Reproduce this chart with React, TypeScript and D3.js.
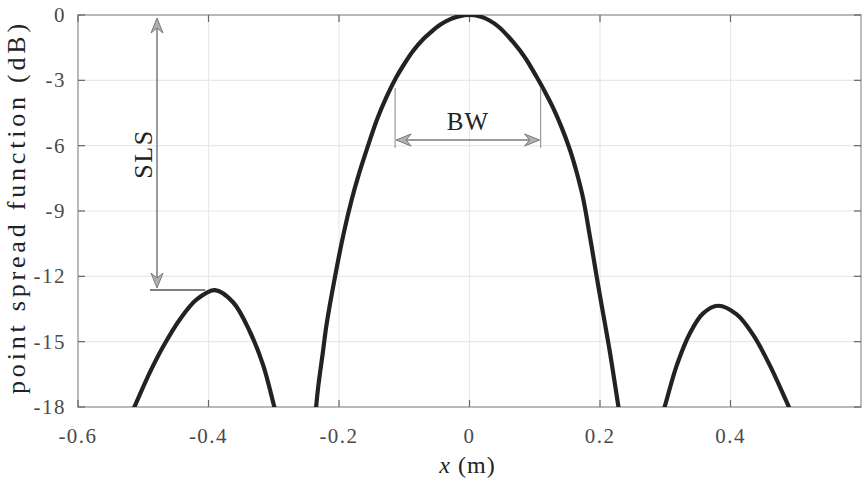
import React from "react";
import * as d3 from "d3";

const xTicks = [-0.6, -0.4, -0.2, 0, 0.2, 0.4];
const yTicks = [0, -3, -6, -9, -12, -15, -18];
const xTickLabels = ["-0.6", "-0.4", "-0.2", "0", "0.2", "0.4"];
const yTickLabels = ["0", "-3", "-6", "-9", "-12", "-15", "-18"];

// Left sidelobe
const leftLobeX = [-0.518, -0.5127, -0.4897, -0.469, -0.4437, -0.418, -0.39, -0.362, -0.336, -0.316, -0.2996, -0.296];
const leftLobeY = [-18.3, -17.94, -16.4, -15.2, -13.97, -13.06, -12.63, -13.2, -14.58, -16.1, -17.94, -18.35];
// Main lobe
const mainLobeX = [-0.2365, -0.2317, -0.225, -0.219, -0.206, -0.193, -0.1805, -0.17, -0.1575, -0.142, -0.127, -0.112, -0.1, -0.086, -0.07, -0.0605, -0.045, -0.03, -0.015, 0, 0.015, 0.03, 0.045, 0.067, 0.085, 0.103, 0.116, 0.128, 0.141, 0.154, 0.164, 0.174, 0.1847, 0.194, 0.2, 0.2153, 0.228, 0.2315];
const mainLobeY = [-18.45, -17.03, -15.55, -14.2, -12.0, -10.05, -8.47, -7.35, -6.18, -4.82, -3.75, -2.85, -2.25, -1.63, -1.08, -0.82, -0.45, -0.2, -0.05, 0, -0.06, -0.24, -0.55, -1.25, -1.95, -2.85, -3.55, -4.25, -5.15, -6.2, -7.2, -8.4, -10.2, -11.85, -12.9, -15.5, -17.94, -18.6];
// Right sidelobe
const rightLobeX = [0.296, 0.2996, 0.3175, 0.338, 0.358, 0.381, 0.4095, 0.435, 0.4605, 0.4886, 0.494];
const rightLobeY = [-18.3, -17.94, -16.1, -14.6, -13.7, -13.35, -13.75, -14.7, -16.1, -17.94, -18.3];

// Annotations (data coords)
const slsLevel = -12.63;
const bwLeft = -0.114;
const bwRight = 0.109;

const W = 863, H = 478;
const L = 78, R = 861, T = 15, B = 407;

function arrowHead(tipX: number, tipY: number, dirX: number, dirY: number) {
  const len = 15, half = 6, notch = 10;
  const px = -dirY, py = dirX;
  const bx = tipX - dirX * len, by = tipY - dirY * len;
  const nx = tipX - dirX * notch, ny = tipY - dirY * notch;
  return `M${tipX},${tipY} L${bx + px * half},${by + py * half} L${nx},${ny} L${bx - px * half},${by - py * half} Z`;
}

export default function App() {
  const x = d3.scaleLinear().domain([-0.6, 0.6]).range([L, R]);
  const y = d3.scaleLinear().domain([-18, 0]).range([B, T]);
  const line = d3
    .line<[number, number]>()
    .x((d) => x(d[0]))
    .y((d) => y(d[1]))
    .curve(d3.curveCatmullRom.alpha(0.5));

  const series = [
    leftLobeX.map((v, i) => [v, leftLobeY[i]] as [number, number]),
    mainLobeX.map((v, i) => [v, mainLobeY[i]] as [number, number]),
    rightLobeX.map((v, i) => [v, rightLobeY[i]] as [number, number]),
  ];

  const font = "'Liberation Serif', 'Times New Roman', serif";
  const gridColor = "#e8e8e8";
  const axisColor = "#a6a6a6";
  const tickColor = "#666";
  const annColor = "#7a7a7a";

  const slsX = 157;
  const slsY = y(slsLevel);
  const bwY = 140;

  return (
    <svg width={W} height={H} style={{ position: "absolute", left: 0, top: 0, background: "#fff" }}>
      <defs>
        <clipPath id="plotClip">
          <rect x={L} y={T} width={R - L} height={B - T} />
        </clipPath>
      </defs>
      {xTicks.map((t) => (
        <line key={"gx" + t} x1={x(t)} x2={x(t)} y1={T} y2={B} stroke={gridColor} strokeWidth={1.2} />
      ))}
      {yTicks.map((t) => (
        <line key={"gy" + t} x1={L} x2={R} y1={y(t)} y2={y(t)} stroke={gridColor} strokeWidth={1.2} />
      ))}
      <rect x={L} y={T} width={R - L} height={B - T} fill="none" stroke={axisColor} strokeWidth={1.5} />
      {xTicks.map((t) => (
        <g key={"tx" + t}>
          <line x1={x(t)} x2={x(t)} y1={B} y2={B - 7} stroke={tickColor} strokeWidth={1.2} />
          <line x1={x(t)} x2={x(t)} y1={T} y2={T + 7} stroke={tickColor} strokeWidth={1.2} />
        </g>
      ))}
      {yTicks.map((t) => (
        <g key={"ty" + t}>
          <line x1={L} x2={L + 7} y1={y(t)} y2={y(t)} stroke={tickColor} strokeWidth={1.2} />
          <line x1={R} x2={R - 7} y1={y(t)} y2={y(t)} stroke={tickColor} strokeWidth={1.2} />
        </g>
      ))}
      {xTicks.map((t, i) => (
        <text key={"lx" + t} x={x(t)} y={443} textAnchor="middle" fontFamily={font} fontSize={21} fill="#4a4a4a" letterSpacing={1.5}>
          {xTickLabels[i]}
        </text>
      ))}
      {yTicks.map((t, i) => (
        <text key={"ly" + t} x={66} y={y(t) + 7} textAnchor="end" fontFamily={font} fontSize={21} fill="#4a4a4a" letterSpacing={1.5}>
          {yTickLabels[i]}
        </text>
      ))}
      <g clipPath="url(#plotClip)">
        {series.map((s, i) => (
          <path key={"s" + i} d={line(s) || ""} fill="none" stroke="#222" strokeWidth={4.2} strokeLinejoin="round" />
        ))}
      </g>
      {/* SLS annotation */}
      <line x1={150} x2={x(-0.405)} y1={slsY} y2={slsY} stroke="#555" strokeWidth={1.5} />
      <line x1={slsX} x2={slsX} y1={T + 6} y2={slsY - 6} stroke={annColor} strokeWidth={1.5} />
      <path d={arrowHead(slsX, T + 3, 0, -1)} fill="#b0b0b0" stroke={annColor} strokeWidth={1} />
      <path d={arrowHead(slsX, slsY - 2, 0, 1)} fill="#b0b0b0" stroke={annColor} strokeWidth={1} />
      <text transform={`translate(152,154) rotate(-90)`} textAnchor="middle" fontFamily={font} fontSize={26} fill="#222" letterSpacing={1.5}>
        SLS
      </text>
      {/* BW annotation */}
      <line x1={x(bwLeft)} x2={x(bwLeft)} y1={88} y2={148} stroke="#999" strokeWidth={1.2} />
      <line x1={x(bwRight)} x2={x(bwRight)} y1={88} y2={148} stroke="#999" strokeWidth={1.2} />
      <line x1={x(bwLeft) + 4} x2={x(bwRight) - 4} y1={bwY} y2={bwY} stroke={annColor} strokeWidth={1.5} />
      <path d={arrowHead(x(bwLeft) + 1, bwY, -1, 0)} fill="#b0b0b0" stroke={annColor} strokeWidth={1} />
      <path d={arrowHead(x(bwRight) - 1, bwY, 1, 0)} fill="#b0b0b0" stroke={annColor} strokeWidth={1} />
      <text x={(x(bwLeft) + x(bwRight)) / 2} y={130} textAnchor="middle" fontFamily={font} fontSize={25} fill="#222" letterSpacing={1}>
        BW
      </text>
      {/* axis labels */}
      <text transform={`translate(25,${(T + B) / 2 - 4}) rotate(-90)`} textAnchor="middle" fontFamily={font} fontSize={26} fill="#222" letterSpacing={3.8}>
        point spread function (dB)
      </text>
      <text x={(L + R) / 2 - 2} y={473} textAnchor="middle" fontFamily={font} fontSize={24} fill="#222" letterSpacing={1}>
        <tspan fontStyle="italic">x</tspan> (m)
      </text>
    </svg>
  );
}
